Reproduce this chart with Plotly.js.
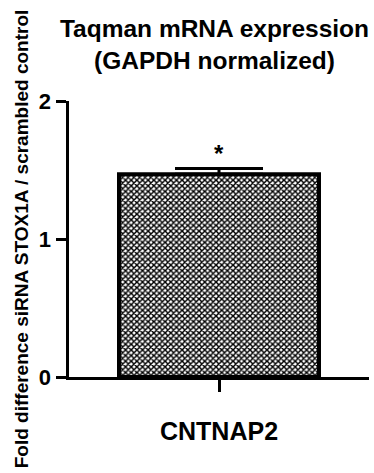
<!DOCTYPE html>
<html>
<head>
<meta charset="utf-8">
<script src="https://cdn.plot.ly/plotly-3.0.1.min.js"></script>
<style>
  html, body { margin: 0; padding: 0; background: #fff; }
  #chart { width: 374px; height: 473px; }
</style>
</head>
<body>
<div id="chart"></div>
<script>
const categories = ['CNTNAP2'];
const foldValues = [1.47];
const errUpper = [0.04];
const sigLabels = ['*'];
const yTickVals = [0, 1, 2];
const yTickText = ['0', '1', '2'];

const FONT = 'Liberation Sans, Arial, sans-serif';

const trace = {
  type: 'bar',
  x: [0],
  y: foldValues,
  width: [1.0],
  marker: {
    color: '#ffffff',
    line: { color: '#000000', width: 4 },
    pattern: { shape: 'x', fgcolor: '#000000', bgcolor: '#ffffff', size: 4, solidity: 0.6, fillmode: 'replace' }
  },
  error_y: {
    type: 'data', symmetric: false, array: errUpper, arrayminus: [0],
    color: '#000000', thickness: 3, width: 44
  },
  hoverinfo: 'skip'
};

const layout = {
  width: 374, height: 473,
  margin: { l: 69, r: 5, t: 101, b: 96 },
  paper_bgcolor: '#ffffff', plot_bgcolor: '#ffffff',
  showlegend: false,
  font: { family: FONT, color: '#000000' },
  title: {
    text: 'Taqman mRNA expression<br>(GAPDH normalized)',
    font: { family: FONT, size: 24.5, weight: 'bold', color: '#000' },
    xref: 'paper', x: 0.485, xanchor: 'center',
    yref: 'container', y: 0.921, yanchor: 'top'
  },
  xaxis: {
    range: [-0.75, 0.75],
    tickmode: 'array', tickvals: [0], ticktext: categories,
    ticks: 'outside', ticklen: 12, tickwidth: 3, tickcolor: '#000',
    ticklabelstandoff: 18,
    tickfont: { family: FONT, size: 25, weight: 'bold', color: '#000' },
    showline: true, linecolor: '#000', linewidth: 3,
    showgrid: false, zeroline: false, fixedrange: true
  },
  yaxis: {
    range: [0, 2],
    tickmode: 'array', tickvals: yTickVals, ticktext: yTickText,
    ticks: 'outside', ticklen: 10, tickwidth: 3, tickcolor: '#000',
    tickfont: { family: FONT, size: 22, weight: 'bold', color: '#000' },
    showline: true, linecolor: '#000', linewidth: 3.5,
    showgrid: false, zeroline: false, fixedrange: true,
    title: {
      text: 'Fold difference siRNA STOX1A / scrambled control',
      font: { family: FONT, size: 19, weight: 'bold', color: '#000' },
      standoff: 6
    }
  },
  annotations: [{
    x: 0, y: foldValues[0] + errUpper[0], xref: 'x', yref: 'y',
    text: sigLabels[0], showarrow: false, yanchor: 'bottom', yshift: 0,
    font: { family: FONT, size: 24, weight: 'bold', color: '#000' }
  }]
};

Plotly.newPlot('chart', [trace], layout, { displayModeBar: false, staticPlot: true });
</script>
</body>
</html>
